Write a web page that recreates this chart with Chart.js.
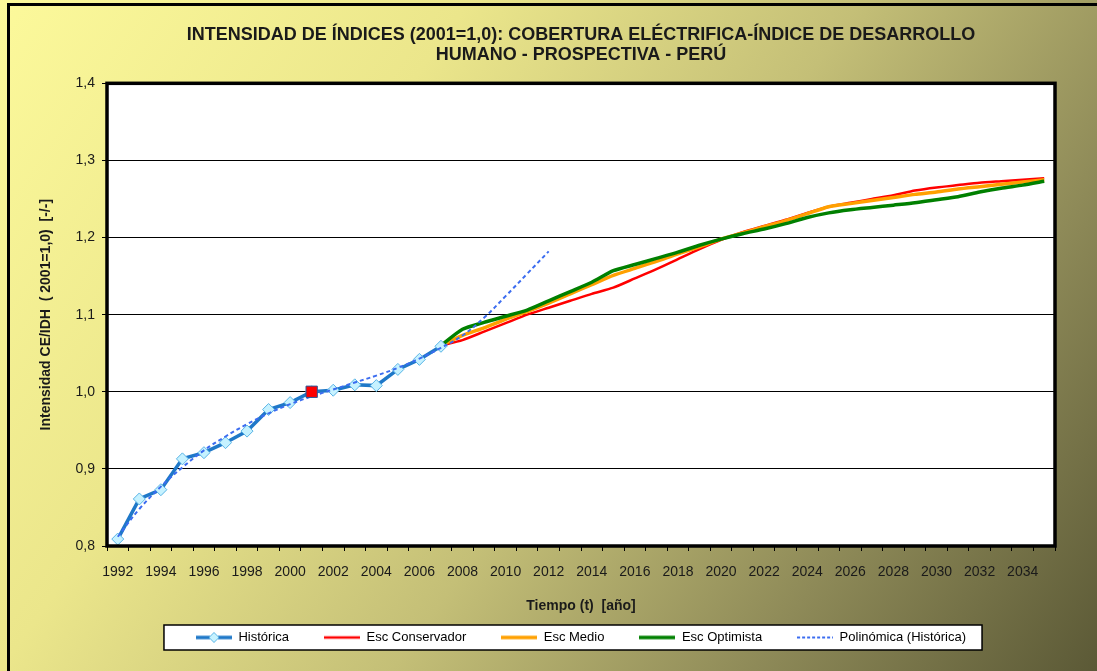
<!DOCTYPE html>
<html>
<head>
<meta charset="utf-8">
<script src="https://cdn.jsdelivr.net/npm/chart.js@4"></script>
<style>
  html, body { margin: 0; padding: 0; }
  body {
    width: 1097px; height: 671px; overflow: hidden; position: relative;
    background: linear-gradient(125deg, #fcf99b 0%, #ebe68b 30%, #c4bf77 55%, #8e8a58 78%, #5b5936 100%);
  }
  #frame {
    position: absolute; left: 7px; top: 3px; width: 1100px; height: 680px;
    border-left: 3px solid #000; border-top: 3px solid #000;
  }
  #chart { position: absolute; left: 0; top: 0; }
</style>
</head>
<body>
<div id="frame"></div>
<canvas id="chart" width="1097" height="671"></canvas>
<script>
// categories (years)
const years = [1992, 1993, 1994, 1995, 1996, 1997, 1998, 1999, 2000, 2001, 2002,
  2003, 2004, 2005, 2006, 2007, 2008, 2009, 2010, 2011, 2012, 2013, 2014, 2015,
  2016, 2017, 2018, 2019, 2020, 2021, 2022, 2023, 2024, 2025, 2026, 2027, 2028,
  2029, 2030, 2031, 2032, 2033, 2034, 2035];

// historical series 1992-2007
const historica = [0.809, 0.861, 0.873, 0.913, 0.921, 0.934, 0.949, 0.977,
  0.986, 1.000, 1.002, 1.009, 1.008, 1.029, 1.042, 1.059];

// base year point (2001 = 1,0)
const baseYear = 2001;
const baseValue = 1.0;

// polynomial trend of the historical series, 1992-2012
const polinomica = [0.812, 0.848, 0.877, 0.902, 0.924, 0.942, 0.958, 0.972,
  0.984, 0.994, 1.003, 1.012, 1.021, 1.031, 1.043, 1.057, 1.073, 1.096, 1.124,
  1.153, 1.182];

// scenarios 2007-2035
const escStart = 2007;
const escConservador = [1.060, 1.067, 1.078, 1.089, 1.100, 1.109, 1.118, 1.127,
  1.135, 1.147, 1.159, 1.172, 1.185, 1.197, 1.207, 1.215, 1.223, 1.232, 1.240,
  1.245, 1.250, 1.255, 1.261, 1.265, 1.268, 1.271, 1.273, 1.275, 1.277];
const escMedio = [1.060, 1.073, 1.083, 1.094, 1.104, 1.115, 1.127, 1.139,
  1.151, 1.160, 1.169, 1.179, 1.188, 1.198, 1.206, 1.214, 1.222, 1.231, 1.240,
  1.244, 1.248, 1.252, 1.256, 1.259, 1.263, 1.266, 1.269, 1.272, 1.275];
const escOptimista = [1.060, 1.081, 1.090, 1.098, 1.106, 1.118, 1.130, 1.142,
  1.157, 1.165, 1.173, 1.181, 1.190, 1.198, 1.205, 1.211, 1.218, 1.226, 1.232,
  1.236, 1.239, 1.242, 1.245, 1.249, 1.253, 1.259, 1.264, 1.268, 1.273];

const yTicks = ["0,8", "0,9", "1,0", "1,1", "1,2", "1,3", "1,4"];

// place a series that starts in a given year on the full year axis
function align(values, start) {
  const offset = years.indexOf(start);
  return years.map((y, i) => {
    const v = values[i - offset];
    return v === undefined ? null : v;
  });
}

const blue = "#1f78c8";
const font = "'Liberation Sans', Arial";

// small canvas swatches for the legend
function swatch(color, width, dash, diamond) {
  const c = document.createElement("canvas");
  c.width = 36;
  c.height = 12;
  const ctx = c.getContext("2d");
  ctx.strokeStyle = color;
  ctx.lineWidth = width;
  ctx.setLineDash(dash || []);
  ctx.beginPath();
  ctx.moveTo(0, 6);
  ctx.lineTo(36, 6);
  ctx.stroke();
  if (diamond) {
    ctx.setLineDash([]);
    ctx.fillStyle = "#c6f2ff";
    ctx.strokeStyle = "#5ab4e6";
    ctx.lineWidth = 1;
    ctx.beginPath();
    ctx.moveTo(18, 1);
    ctx.lineTo(23, 6);
    ctx.lineTo(18, 11);
    ctx.lineTo(13, 6);
    ctx.closePath();
    ctx.fill();
    ctx.stroke();
  }
  return c;
}

const legendItems = [
  { text: "Histórica", img: swatch(blue, 3.5, null, true) },
  { text: "Esc Conservador", img: swatch("#ff0000", 2.5) },
  { text: "Esc Medio", img: swatch("#ffa000", 3.5) },
  { text: "Esc Optimista", img: swatch("#008000", 3.5) },
  { text: "Polinómica (Histórica)", img: swatch("#3b6cf0", 2, [3, 2]) },
];

// white plot area with heavy black frame, white legend box
const plotFrame = {
  id: "plotFrame",
  beforeDraw(chart) {
    const { ctx, chartArea: a } = chart;
    ctx.save();
    ctx.fillStyle = "#ffffff";
    ctx.fillRect(a.left, a.top, a.right - a.left, a.bottom - a.top);
    const boxes = chart.legend.legendHitBoxes;
    if (boxes && boxes.length) {
      const l = Math.min(...boxes.map((b) => b.left)) - 32;
      const r = Math.max(...boxes.map((b) => b.left + b.width)) + 16;
      const t = boxes[0].top - 6;
      const h = boxes[0].height + 12;
      ctx.fillRect(l, t, r - l, h);
      ctx.strokeStyle = "#000";
      ctx.lineWidth = 1.5;
      ctx.strokeRect(l, t, r - l, h);
    }
    ctx.restore();
  },
  afterDraw(chart) {
    const { ctx, chartArea: a } = chart;
    ctx.save();
    ctx.strokeStyle = "#000";
    ctx.lineWidth = 3.5;
    ctx.strokeRect(a.left, a.top, a.right - a.left, a.bottom - a.top);
    ctx.restore();
  },
};

const config = {
  type: "line",
  data: {
    labels: years,
    datasets: [
      {
        label: "2001",
        data: align([baseValue], baseYear),
        showLine: false,
        pointStyle: "rect",
        pointRadius: 8,
        pointBackgroundColor: "#ff0000",
        pointBorderColor: "#2a5a9a",
        pointBorderWidth: 1,
        order: 0,
      },
      {
        label: "Polinómica (Histórica)",
        data: align(polinomica, 1992),
        borderColor: "#3b6cf0",
        borderWidth: 2,
        borderDash: [4, 3],
        pointRadius: 0,
        tension: 0.4,
        order: 1,
      },
      {
        label: "Histórica",
        data: align(historica, 1992),
        borderColor: blue,
        borderWidth: 3.5,
        pointStyle: "rectRot",
        pointRadius: 6,
        pointBackgroundColor: "#c6f2ff",
        pointBorderColor: "#5ab4e6",
        pointBorderWidth: 1,
        order: 2,
      },
      {
        label: "Esc Optimista",
        data: align(escOptimista, escStart),
        borderColor: "#008000",
        borderWidth: 3.5,
        pointRadius: 0,
        tension: 0.2,
        order: 3,
      },
      {
        label: "Esc Medio",
        data: align(escMedio, escStart),
        borderColor: "#ffa000",
        borderWidth: 3.5,
        pointRadius: 0,
        tension: 0.2,
        order: 4,
      },
      {
        label: "Esc Conservador",
        data: align(escConservador, escStart),
        borderColor: "#ff0000",
        borderWidth: 2.5,
        pointRadius: 0,
        tension: 0.2,
        order: 5,
      },
    ],
  },
  options: {
    responsive: false,
    devicePixelRatio: 1,
    animation: false,
    layout: { padding: { left: 12, right: 42, top: 0, bottom: 17 } },
    plugins: {
      tooltip: { enabled: false },
      title: {
        display: true,
        fullSize: false,
        text: [
          "INTENSIDAD DE ÍNDICES (2001=1,0): COBERTURA ELÉCTRIFICA-ÍNDICE DE DESARROLLO",
          "HUMANO - PROSPECTIVA - PERÚ",
        ],
        color: "#1a1a1a",
        font: { family: font, size: 18, weight: "bold", lineHeight: 1.12 },
        padding: { top: 25, bottom: 18 },
      },
      legend: {
        position: "bottom",
        fullSize: false,
        labels: {
          usePointStyle: true,
          pointStyleWidth: 36,
          padding: 35,
          color: "#000",
          font: { family: font, size: 13 },
          generateLabels: () =>
            legendItems.map((it) => ({
              text: it.text,
              pointStyle: it.img,
              fillStyle: "transparent",
              strokeStyle: "transparent",
              lineWidth: 0,
              fontColor: "#000",
            })),
        },
      },
    },
    scales: {
      x: {
        offset: true,
        afterFit: (s) => { s.height = 50; },
        grid: {
          offset: true,
          drawOnChartArea: false,
          drawTicks: true,
          tickLength: 5,
          color: "#000",
          lineWidth: 1,
        },
        border: { display: false },
        ticks: {
          autoSkip: false,
          maxRotation: 0,
          padding: 13,
          color: "#1a1a1a",
          font: { family: font, size: 14 },
          callback: (v, i) => (i % 2 === 0 ? years[i] : ""),
        },
        title: {
          display: true,
          text: "Tiempo (t)  [año]",
          color: "#1a1a1a",
          font: { family: font, size: 14, weight: "bold" },
          padding: { top: 0, bottom: -19 },
        },
      },
      y: {
        min: 0.8,
        max: 1.4,
        afterFit: (s) => { s.width = 95; },
        grid: {
          color: "#000",
          lineWidth: 1,
          tickLength: 5,
        },
        border: { display: false },
        ticks: {
          stepSize: 0.1,
          padding: 7,
          color: "#1a1a1a",
          font: { family: font, size: 14 },
          callback: (v, i) => yTicks[i],
        },
        title: {
          display: true,
          text: "Intensidad CE/IDH  ( 2001=1,0)  [-/-]",
          color: "#1a1a1a",
          font: { family: font, size: 14, weight: "bold" },
          padding: { top: 26, bottom: 0 },
        },
      },
    },
  },
  plugins: [plotFrame],
};

const chart = new Chart(document.getElementById("chart"), config);
</script>
</body>
</html>
